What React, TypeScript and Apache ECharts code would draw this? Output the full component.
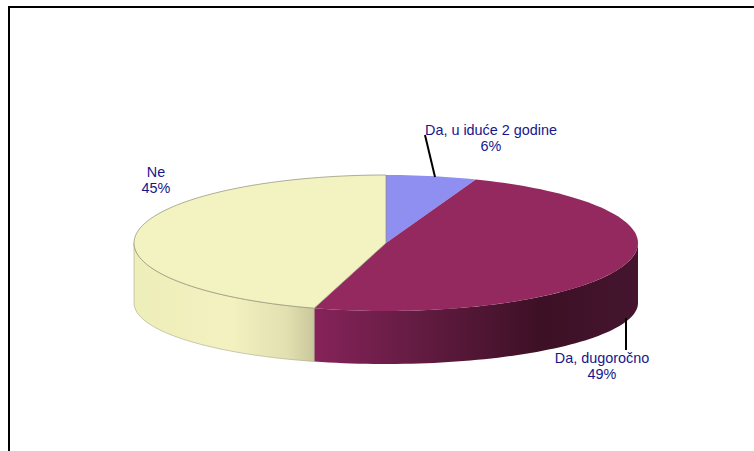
import React, { useEffect, useRef } from "react";
import * as echarts from "echarts";

const categories = ["Da, u iduće 2 godine", "Da, dugoročno", "Ne"];
const values = [5.8, 48.8, 45.4];
const shownPercents = ["6%", "49%", "45%"];
const topColors = ["#8f8ff2", "#93295f", "#f3f3c1"];

const CX = 386;
const CY = 243;
const RX = 252;
const RY = 68;
const BOTTOM_CY = 303;
const BOTTOM_RY = 61;
const TEXT = "#16168c";

const sideGradients: Record<number, any> = {
  1: {
    type: "linear", x: 0, y: 0, x2: 1, y2: 0,
    colorStops: [
      { offset: 0, color: "#86235a" },
      { offset: 0.3, color: "#651c43" },
      { offset: 0.7, color: "#3d1025" },
      { offset: 1, color: "#45152f" },
    ],
  },
  2: {
    type: "linear", x: 0, y: 0, x2: 1, y2: 0,
    colorStops: [
      { offset: 0, color: "#eeeeba" },
      { offset: 0.55, color: "#f3f1c0" },
      { offset: 0.85, color: "#e2dfb0" },
      { offset: 1, color: "#c9c89c" },
    ],
  },
};
const labelPlaces = [
  { x: 491, y: 138 },
  { x: 602, y: 366 },
  { x: 156, y: 180 },
];
const leaders = [
  { x1: 425, y1: 135, x2: 435, y2: 177 },
  { x1: 626, y1: 318, x2: 626, y2: 350 },
  null,
];

const f = (n: number) => n.toFixed(2);

function arc(a: number, b: number, cy: number, ry: number, move: boolean) {
  const steps = Math.max(8, Math.ceil(Math.abs(b - a) / 0.03));
  let d = "";
  for (let i = 0; i <= steps; i++) {
    const t = a + ((b - a) * i) / steps;
    const x = CX + RX * Math.sin(t);
    const y = cy - ry * Math.cos(t);
    d += (i === 0 && move ? "M" : "L") + f(x) + " " + f(y) + " ";
  }
  return d;
}

function renderSlice(params: any, api: any) {
  const i = params.dataIndex;
  const total = values.reduce((s, v) => s + v, 0);
  const before = values.slice(0, i).reduce((s, v) => s + v, 0);
  const a = (before / total) * Math.PI * 2;
  const b = ((before + api.value(0)) / total) * Math.PI * 2;
  const children: any[] = [];

  const fa = Math.max(a, Math.PI / 2);
  const fb = Math.min(b, (Math.PI * 3) / 2);
  if (fb > fa) {
    const d = arc(fa, fb, CY, RY, true) + arc(fb, fa, BOTTOM_CY, BOTTOM_RY, false) + "Z";
    children.push({
      type: "path",
      shape: { pathData: d },
      style: { fill: sideGradients[i], stroke: i === 2 ? "#a8a88a" : "none", lineWidth: 0.6 },
    });
  }
  const top = `M${CX} ${CY} ` + arc(a, b, CY, RY, false) + "Z";
  children.push({
    type: "path",
    shape: { pathData: top },
    style: { fill: topColors[i], stroke: i === 2 ? "#8d8d72" : "none", lineWidth: 0.7 },
  });
  const l = leaders[i];
  if (l) {
    children.push({
      type: "line",
      shape: l,
      style: { stroke: "#000", lineWidth: 2 },
      z2: 5,
    });
  }
  children.push({
    type: "text",
    x: labelPlaces[i].x,
    y: labelPlaces[i].y,
    z2: 6,
    style: {
      text: categories[i] + "\n" + shownPercents[i],
      fill: TEXT,
      font: '14.4px "Liberation Sans", Arial, sans-serif',
      align: "center",
      verticalAlign: "middle",
      lineHeight: 15.5,
    },
  });
  return { type: "group", children };
}

export default function App() {
  const ref = useRef<HTMLDivElement>(null);
  useEffect(() => {
    const chart = echarts.init(ref.current!, null, { renderer: "svg" });
    chart.setOption({
      animation: false,
      backgroundColor: "#ffffff",
      graphic: [
        {
          type: "polyline",
          shape: { points: [[9, 451], [9, 7], [754, 7]] },
          style: { stroke: "#000", lineWidth: 2, fill: "none" },
        },
      ],
      series: [
        {
          type: "custom",
          coordinateSystem: "none",
          data: values.map((v) => [v]),
          renderItem: renderSlice,
          silent: true,
        },
      ],
    });
    return () => chart.dispose();
  }, []);
  return <div ref={ref} style={{ position: "fixed", left: 0, top: 0, width: 754, height: 451 }} />;
}
